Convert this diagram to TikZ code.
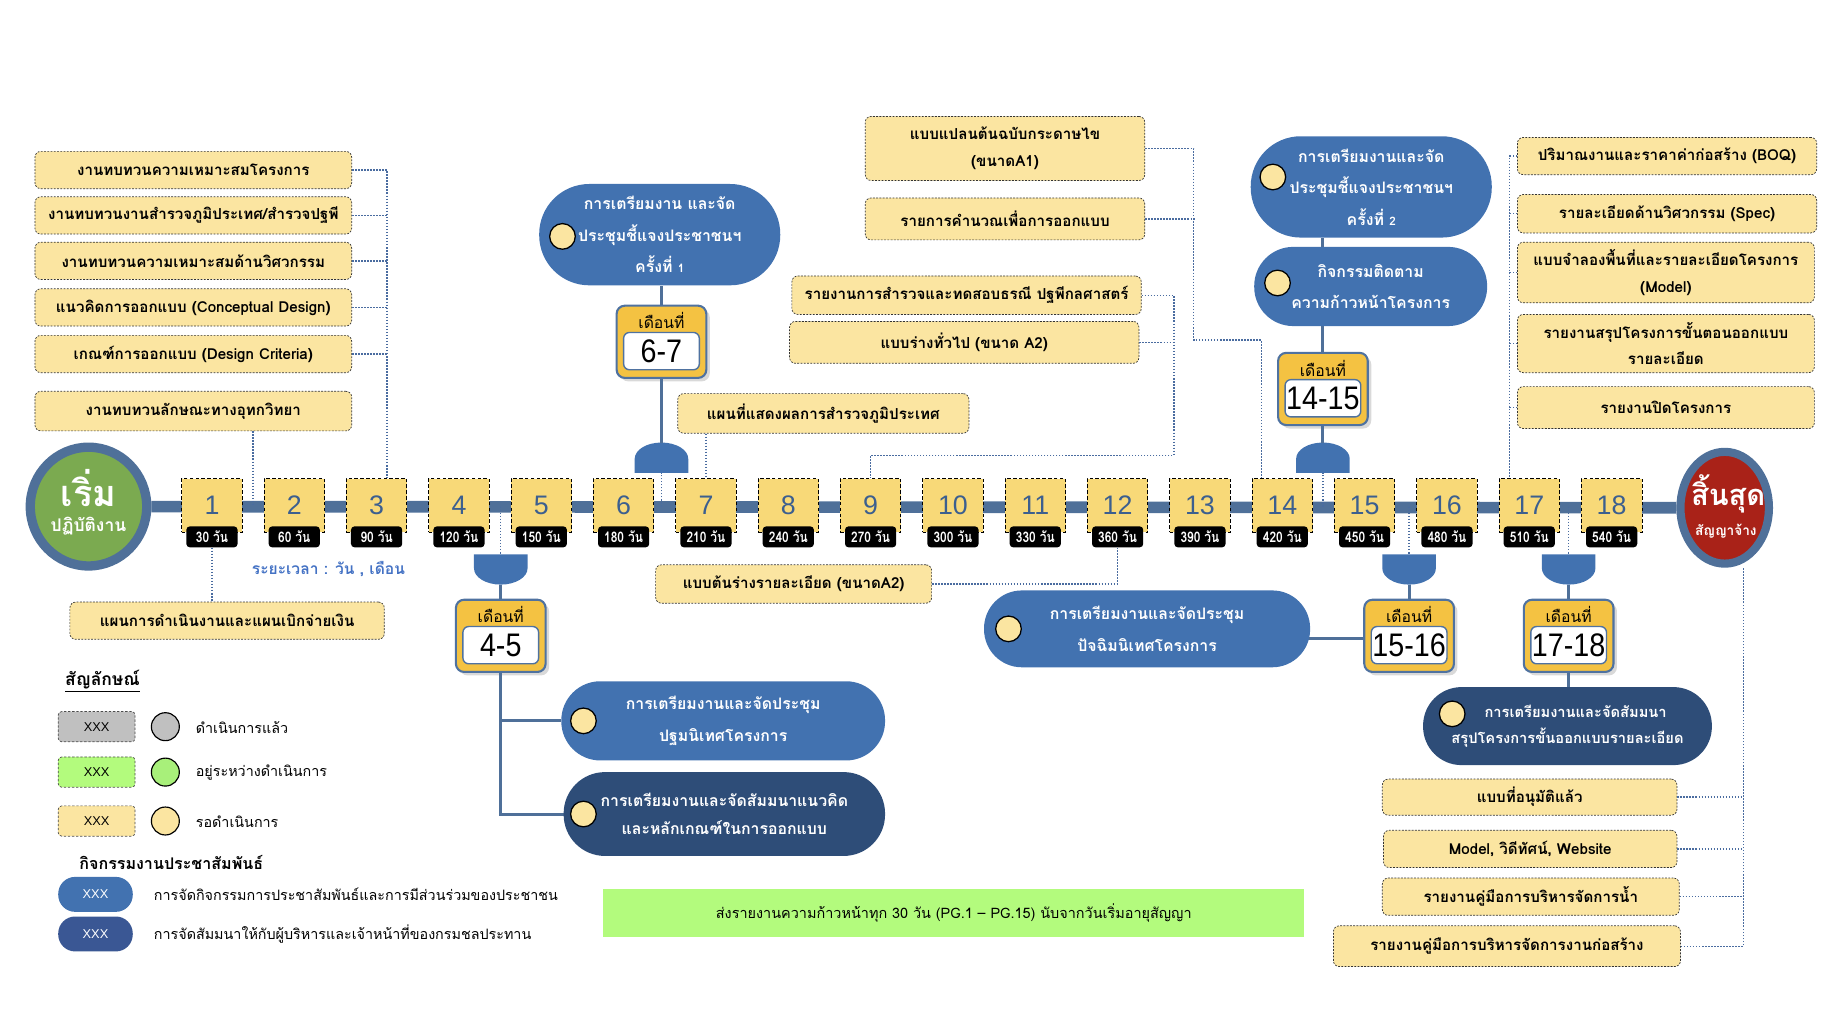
\documentclass[tikz,border=0pt]{standalone}
\usepackage{fontspec}
\usepackage{graphicx}
\setmainfont{Loma}[Script=Thai]
\newfontfamily\arial{Liberation Sans}
\usetikzlibrary{shapes.geometric,shadows,calc}
\definecolor{tlblue}{HTML}{4F7099}
\definecolor{pblue}{HTML}{4272B0}
\definecolor{pdark}{HTML}{2E4D78}
\definecolor{ldark}{HTML}{3A5794}
\definecolor{yfill}{HTML}{FBE5A1}
\definecolor{tfill}{HTML}{F8D978}
\definecolor{mfill}{HTML}{F4C242}
\definecolor{mborder}{HTML}{4F72A0}
\definecolor{dotc}{HTML}{4A6CA0}
\definecolor{gfill}{HTML}{B3FB7D}
\definecolor{sgreen}{HTML}{7BAA50}
\definecolor{ered}{HTML}{A92218}
\definecolor{numblue}{HTML}{3C5F8F}
\definecolor{lgray}{HTML}{C0C0C0}
\definecolor{lgreen}{HTML}{A8F07A}
\definecolor{durblue}{HTML}{4472C4}
\tikzset{
  ybox/.style={draw=black!80, line width=0.6pt, dash pattern=on 1.6pt off 1.2pt, fill=yfill, rounded corners=5pt, align=center, inner sep=1pt, font=\bfseries\fontsize{13}{23}\selectfont},
  dotline/.style={draw=dotc, line width=1.2pt, dash pattern=on 1.3pt off 1.3pt},
  conn/.style={draw=tlblue, line width=2.6pt},
  tbox/.style={draw=black, line width=0.7pt, dash pattern=on 3pt off 2pt, fill=tfill, minimum width=52pt, minimum height=46pt, inner sep=0pt, font=\arial\fontsize{23}{23}\selectfont, text=numblue},
  tag/.style={fill=black, rounded corners=3pt, text=white, font=\bfseries\fontsize{12.5}{13}\selectfont, minimum width=44pt, minimum height=18pt, inner xsep=1.5pt, inner ysep=0pt},
  pillA/.style={fill=pblue, text=white, align=center, inner sep=0pt, font=\bfseries\fontsize{13.6}{27}\selectfont},
  pillB/.style={fill=pdark, text=white, align=center, inner sep=0pt, font=\bfseries\fontsize{13.6}{24}\selectfont},
  ycirc/.style={circle, draw=black, line width=1.1pt, fill=yfill, minimum size=22pt, inner sep=0pt},
  mbox/.style={fill=mfill, draw=mborder, line width=1.8pt, rounded corners=7pt, minimum width=77pt, minimum height=62pt, drop shadow={opacity=0.3, shadow xshift=3pt, shadow yshift=-3pt}},
  mwhite/.style={fill=white, draw=mborder, line width=1.2pt, rounded corners=5pt, minimum width=65pt, minimum height=32pt, inner sep=0pt, font=\arial\fontsize{28}{28}\selectfont},
  mlabel/.style={font=\fontsize{13.5}{13.5}\selectfont, inner sep=0pt},
  dome/.style={fill=pblue},
  legbox/.style={draw=black!70, line width=0.6pt, dash pattern=on 2pt off 1.5pt, rounded corners=3pt, minimum width=66pt, minimum height=26pt, inner sep=0pt, font=\arial\fontsize{11}{11}\selectfont},
  legcirc/.style={circle, draw=black, line width=1pt, minimum size=24pt, inner sep=0pt},
  legtext/.style={anchor=west, font=\fontsize{12.3}{13}\selectfont, inner sep=0pt},
  legpill/.style={rounded corners=14.5pt, minimum width=64pt, minimum height=30pt, text=white, inner sep=0pt, font=\arial\fontsize{11}{11}\selectfont},
}
\newcommand\ybox[6]{%
  \pgfmathsetmacro\bw{(#4)-(#2)}\pgfmathsetmacro\bh{(#5)-(#3)}%
  \node[ybox, minimum width=\bw pt, minimum height=\bh pt] (#1) at ({(#2+#4)/2},{(#3+#5)/2}) {#6};}
\newcommand\pill[7]{%
  \pgfmathsetmacro\pw{(#5)-(#3)}\pgfmathsetmacro\ph{(#6)-(#4)}\pgfmathsetmacro\pr{\ph/2-0.5}%
  \node[#1, minimum width=\pw pt, minimum height=\ph pt, rounded corners=\pr pt] (#2) at ({(#3+#5)/2},{(#4+#6)/2}) {#7};}
\newcommand\monthbox[4]{%
  \node[mbox] (#1) at (#2,#3) {};
  \node[mlabel] (#1l) at ({#2},{#3-18}) {เดือนที่};
  \node[mwhite] (#1w) at ({#2},{#3+8}) {\scalebox{0.88}[1]{#4}};}
\newcommand\domedown[3]{% name, x, top y
  \fill[dome] ({#2-23},#3) -- ({#2+23},#3) -- ({#2+23},{#3+12}) arc[start angle=0,end angle=180,x radius=23,y radius=14] -- cycle;
  \coordinate (#1t) at (#2,#3); \coordinate (#1b) at (#2,{#3+26});}
\newcommand\domeup[3]{% name, x, bottom y
  \fill[dome] ({#2-23},#3) -- ({#2+23},#3) -- ({#2+23},{#3-12}) arc[start angle=0,end angle=-180,x radius=23,y radius=14] -- cycle;
  \coordinate (#1b) at (#2,#3); \coordinate (#1t) at (#2,{#3-26});}
\begin{document}
\begin{tikzpicture}[x=1pt,y=-1pt]
\useasboundingbox (0,0) rectangle (1568,867);

% ---------- start / end circles and timeline ----------
\node[ellipse, draw=tlblue, line width=8pt, fill=sgreen, minimum width=100pt, minimum height=102pt, inner sep=0pt] (START) at (76,435) {};
\node[ellipse, draw=tlblue, line width=7pt, fill=ered, minimum width=76pt, minimum height=96pt, inner sep=0pt] (END) at (1481,436) {};
\draw[tlblue, line width=10pt] (START) -- (END);
\node[text=white, font=\bfseries\fontsize{31}{31}\selectfont, inner sep=0pt] (st1) at (76,419) {เริ่ม};
\node[text=white, font=\bfseries\fontsize{15}{15}\selectfont, inner sep=0pt] (st2) at (76,452) {ปฏิบัติงาน};
\node[text=white, font=\bfseries\fontsize{25}{25}\selectfont, inner sep=0pt] (en1) at (1484,424) {สิ้นสุด};
\node[text=white, font=\bfseries\fontsize{11.7}{12}\selectfont, inner sep=0pt] (en2) at (1482,456) {สัญญาจ้าง};

% ---------- domes ----------
\domedown{D45}{430}{476}
\domeup{D67}{568}{406}
\domeup{D1415}{1136}{406}
\domedown{D1516}{1210}{476}
\domedown{D1718}{1347}{476}
\draw[dotline] (D45t |- START) -- (D45t);
\draw[dotline] (D67b |- START) -- (D67b);
\draw[dotline] (D1415b |- START) -- (D1415b);
\draw[dotline] (D1516t |- START) -- (D1516t);
\draw[dotline] (D1718t |- START) -- (D1718t);

% ---------- timeline boxes ----------
\foreach \i/\d in {1/30,2/60,3/90,4/120,5/150,6/180,7/210,8/240,9/270,10/300,11/330,12/360,13/390,14/420,15/450,16/480,17/510,18/540}{
  \node[tbox] (t\i) at ({182+(\i-1)*70.7},434) {\i};
  \node[tag] (g\i) at ({182+(\i-1)*70.7},461) {\scalebox{0.82}[1]{\d\ วัน}};
}
\coordinate (tl12) at ($(t1.east)!0.5!(t2.west)$);
\node[text=durblue, font=\bfseries\fontsize{13.4}{13}\selectfont, inner sep=0pt] (dur) at (282,489) {ระยะเวลา : วัน , เดือน};

% ---------- yellow boxes ----------
\ybox{L1}{30}{130}{302}{162}{งานทบทวนความเหมาะสมโครงการ}
\ybox{L2}{30}{169}{302}{201}{งานทบทวนงานสำรวจภูมิประเทศ/สำรวจปฐพี}
\ybox{L3}{30}{208}{302}{240}{งานทบทวนความเหมาะสมด้านวิศวกรรม}
\ybox{L4}{30}{248}{302}{280}{แนวคิดการออกแบบ (Conceptual Design)}
\ybox{L5}{30}{288}{302}{320}{เกณฑ์การออกแบบ (Design Criteria)}
\ybox{L6}{30}{336}{302}{370}{งานทบทวนลักษณะทางอุทกวิทยา}
\ybox{PLAN}{60}{517}{330}{549}{แผนการดำเนินงานและแผนเบิกจ่ายเงิน}
\ybox{A1}{743}{100}{983}{155}{แบบแปลนต้นฉบับกระดาษไข\\(ขนาดA1)}
\ybox{CALC}{743}{170}{983}{206}{รายการคำนวณเพื่อการออกแบบ}
\ybox{GEO}{680}{237}{980}{270}{รายงานการสำรวจและทดสอบธรณี ปฐพีกลศาสตร์}
\ybox{AGEN}{678}{276}{978}{312}{แบบร่างทั่วไป (ขนาด A2)}
\ybox{MAP}{582}{338}{832}{372}{แผนที่แสดงผลการสำรวจภูมิประเทศ}
\ybox{DET}{563}{485}{800}{518}{แบบต้นร่างรายละเอียด (ขนาดA2)}
\ybox{R1}{1303}{118}{1560}{150}{ปริมาณงานและราคาค่าก่อสร้าง (BOQ)}
\ybox{R2}{1303}{167}{1560}{200}{รายละเอียดด้านวิศวกรรม (Spec)}
\ybox{R3}{1303}{208}{1558}{260}{แบบจำลองพื้นที่และรายละเอียดโครงการ\\(Model)}
\ybox{R4}{1303}{270}{1558}{320}{รายงานสรุปโครงการขั้นตอนออกแบบ\\รายละเอียด}
\ybox{R5}{1303}{332}{1558}{368}{รายงานปิดโครงการ}
\ybox{B1}{1187}{669}{1440}{700}{แบบที่อนุมัติแล้ว}
\ybox{B2}{1188}{713}{1440}{745}{Model, วิดีทัศน์, Website}
\ybox{B3}{1187}{754}{1442}{786}{รายงานคู่มือการบริหารจัดการน้ำ}
\ybox{B4}{1145}{795}{1443}{830}{รายงานคู่มือการบริหารจัดการงานก่อสร้าง}

% ---------- dotted connectors ----------
\coordinate (vL) at (332,0);
\draw[dotline] (L1.east) -| ([xshift=9pt]t3.north);
\foreach \b in {L2,L3,L4,L5}{\draw[dotline] (\b.east) -- (\b.east -| vL);}
\draw[dotline] (L6.south -| tl12) -- (tl12);
\draw[dotline] (g1.south) -- (g1.south |- PLAN.north);
\draw[dotline] (MAP.south -| t7.north) -- (t7.north);
\coordinate (v2) at (1025,292);
\draw[dotline] (A1.east) -| (v2) -| ([xshift=-18pt]t14.north);
\draw[dotline] (CALC.east) -- (CALC.east -| v2);
\coordinate (v3) at (1008,391);
\draw[dotline] (GEO.east) -| (v3) -| (t9.north);
\draw[dotline] (AGEN.east) -- (AGEN.east -| v3);
\draw[dotline] (DET.east) -| (g12.south);
\coordinate (vR) at (1296,0);
\draw[dotline] (R1.west) -| ([xshift=-17pt]t17.north);
\foreach \b in {R2,R3,R4,R5}{\draw[dotline] (\b.west) -- (\b.west -| vR);}
\coordinate (vB) at (1497,487);
\draw[dotline] (B4.east) -| (vB);
\foreach \b in {B1,B2,B3}{\draw[dotline] (\b.east) -- (\b.east -| vB);}

% ---------- month boxes ----------
\monthbox{M45}{430}{546}{4-5}
\monthbox{M67}{568}{293.5}{6-7}
\monthbox{M1415}{1136}{334}{14-15}
\monthbox{M1516}{1210}{546}{15-16}
\monthbox{M1718}{1347}{546}{17-18}

% ---------- pills ----------
\coordinate (P2aW) at (482,619);
\coordinate (P2bW) at (484,699);
\draw[conn] (M45.south) -- (M45.south |- P2bW) -- (P2bW);
\draw[conn] (M45.south |- P2aW) -- (P2aW);
\draw[conn] (D45b) -- (M45.north);
\draw[conn] (D67t) -- (M67.south);
\draw[conn] (D1415t) -- (M1415.south);
\draw[conn] (D1516b) -- (M1516.north);
\draw[conn] (D1718b) -- (M1718.north);
\coordinate (P5E) at (1110,548);
\draw[conn] (M1516.west |- P5E) -- (P5E);

\pill{pillA}{P1}{463}{158}{670}{245}{การเตรียมงาน และจัด\\ประชุมชี้แจงประชาชนฯ\\ครั้งที่ {\fontsize{10}{10}\selectfont 1}}
\pill{pillA}{P4}{1074}{117}{1281}{204}{การเตรียมงานและจัด\\ประชุมชี้แจงประชาชนฯ\\ครั้งที่ {\fontsize{10}{10}\selectfont 2}}
\pill{pillA}{P3}{1077}{212}{1277}{280}{กิจกรรมติดตาม\\ความก้าวหน้าโครงการ}
\pill{pillA}{P5}{845}{507}{1125}{573}{การเตรียมงานและจัดประชุม\\ปัจฉิมนิเทศโครงการ}
\pill{pillA}{P2a}{482}{585}{760}{653}{การเตรียมงานและจัดประชุม\\ปฐมนิเทศโครงการ}
\pill{pillB}{P2b}{484}{663}{760}{735}{การเตรียมงานและจัดสัมมนาแนวคิด\\และหลักเกณฑ์ในการออกแบบ}
\pill{pillB, font=\bfseries\fontsize{12.6}{23}\selectfont}{P6}{1222}{590}{1470}{657}{\hspace*{14pt}การเตรียมงานและจัดสัมมนา\\สรุปโครงการขั้นออกแบบรายละเอียด}
\draw[conn] (M67.north) -- (M67.north |- P1.south);
\draw[conn] (M1415.north) -- (M1415.north |- P3.south);
\draw[conn] (M1415.north |- P3.north) -- (M1415.north |- P4.south);
\draw[conn] (M1718.south) -- (M1718.south |- P6.north);
\node[ycirc] (c1) at (483,203) {};
\node[ycirc] (c4) at (1093,152) {};
\node[ycirc] (c3) at (1097,243) {};
\node[ycirc] (c5) at (866,540) {};
\node[ycirc] (c2a) at (501,619) {};
\node[ycirc] (c2b) at (501,699) {};
\node[ycirc] (c6) at (1247,613) {};

% ---------- banner ----------
\node[fill=gfill, minimum width=602pt, minimum height=42pt, inner sep=0pt, font=\fontsize{12.4}{13}\selectfont] (BAN) at (819,784) {ส่งรายงานความก้าวหน้าทุก 30 วัน (PG.1 – PG.15) นับจากวันเริ่มอายุสัญญา};

% ---------- legend ----------
\node[font=\bfseries\fontsize{15}{15}\selectfont, inner sep=0pt] (legT) at (88,585) {\underline{สัญลักษณ์}};
\node[legbox, fill=lgray] (lb1) at (83,624) {XXX};
\node[legbox, fill=gfill] (lb2) at (83,663) {XXX};
\node[legbox, fill=yfill] (lb3) at (83,705) {XXX};
\node[legcirc, fill=lgray] (lc1) at (142,624) {};
\node[legcirc, fill=lgreen] (lc2) at (142,663) {};
\node[legcirc, fill=yfill] (lc3) at (142,705) {};
\node[legtext] (lt1) at (168,625) {ดำเนินการแล้ว};
\node[legtext] (lt2) at (168,663) {อยู่ระหว่างดำเนินการ};
\node[legtext] (lt3) at (168,706) {รอดำเนินการ};
\node[font=\bfseries\fontsize{13.8}{14}\selectfont, anchor=west, inner sep=0pt] (legP) at (68,741) {กิจกรรมงานประชาสัมพันธ์};
\node[legpill, fill=pblue] (lp1) at (82,768) {XXX};
\node[legpill, fill=ldark] (lp2) at (82,802) {XXX};
\node[legtext] (lt4) at (132,768) {การจัดกิจกรรมการประชาสัมพันธ์และการมีส่วนร่วมของประชาชน};
\node[legtext] (lt5) at (132,802) {การจัดสัมมนาให้กับผู้บริหารและเจ้าหน้าที่ของกรมชลประทาน};
\end{tikzpicture}
\end{document}
